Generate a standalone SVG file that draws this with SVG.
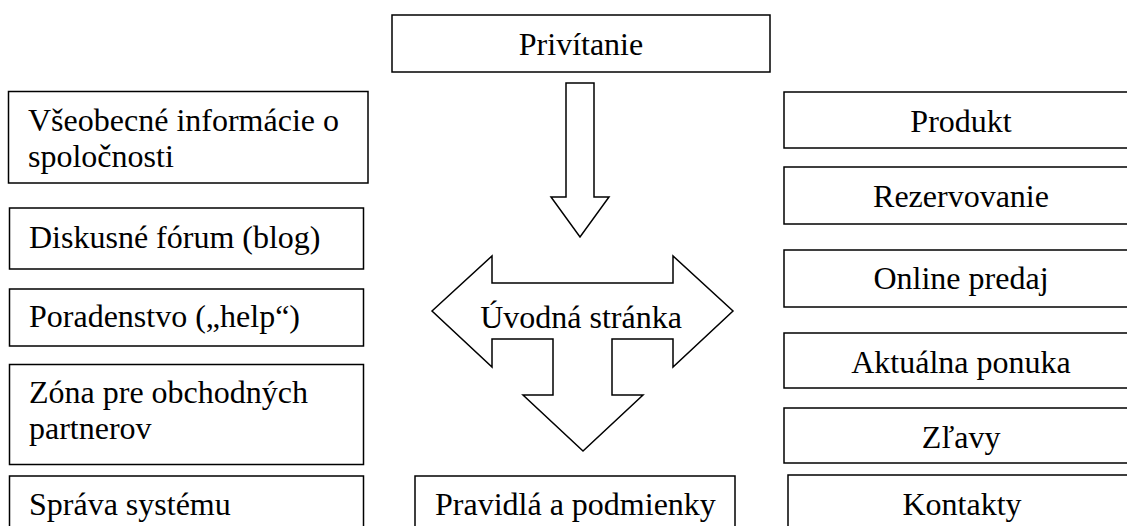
<svg xmlns="http://www.w3.org/2000/svg" width="1127" height="526" viewBox="0 0 1127 526">
  <style>
    .box { fill: #ffffff; stroke: #000000; stroke-width: 1.5; }
    .arrow { fill: #ffffff; stroke: #000000; stroke-width: 1.5; stroke-linejoin: miter; }
    text { font-family: 'Liberation Serif', 'DejaVu Serif', serif; font-size: 32px; fill: #000000; }
    .mid { text-anchor: middle; }
  </style>
  <rect width="1127" height="526" fill="#ffffff"/>

  <!-- block arrows linking the welcome page and the home page -->
  <g id="connectors">
    <polygon class="arrow" points="566,83 594,83 594,197 609,197 580,237 551,197 566,197"/>
    <polygon class="arrow" points="432,311 492,256 492,283 673,283 673,256 733,311 673,367 673,339 612,339 612,395 643,395 583,451 523,395 553,395 553,339 492,339 492,367"/>
  </g>

  <!-- centre column -->
  <g id="welcome" font-family="Liberation Serif, serif">
    <rect class="box" x="392" y="15" width="378" height="57"/>
    <text class="mid" x="581" y="55">Privítanie</text>
  </g>
  <g id="home" font-family="Liberation Serif, serif">
    <text class="mid" x="581" y="328">Úvodná stránka</text>
  </g>
  <g id="terms" font-family="Liberation Serif, serif">
    <rect class="box" x="415" y="476" width="320" height="70"/>
    <text x="435" y="515">Pravidlá a podmienky</text>
  </g>

  <!-- left column -->
  <g id="company-info" font-family="Liberation Serif, serif">
    <rect class="box" x="8.5" y="91.5" width="359.5" height="91.5"/>
    <text x="28" y="131">Všeobecné informácie o</text>
    <text x="28" y="167">spoločnosti</text>
  </g>
  <g id="forum" font-family="Liberation Serif, serif">
    <rect class="box" x="9.5" y="208" width="354" height="61"/>
    <text x="29" y="248">Diskusné fórum (blog)</text>
  </g>
  <g id="help" font-family="Liberation Serif, serif">
    <rect class="box" x="9.5" y="289" width="354" height="57"/>
    <text x="29" y="327">Poradenstvo („help“)</text>
  </g>
  <g id="partners" font-family="Liberation Serif, serif">
    <rect class="box" x="9.5" y="364.5" width="354" height="100"/>
    <text x="29" y="403">Zóna pre obchodných</text>
    <text x="29" y="439">partnerov</text>
  </g>
  <g id="admin" font-family="Liberation Serif, serif">
    <rect class="box" x="9.5" y="476" width="354" height="70"/>
    <text x="29" y="515">Správa systému</text>
  </g>

  <!-- right column -->
  <g id="product" font-family="Liberation Serif, serif">
    <rect class="box" x="784" y="92" width="360" height="56"/>
    <text class="mid" x="961" y="132">Produkt</text>
  </g>
  <g id="booking" font-family="Liberation Serif, serif">
    <rect class="box" x="784" y="167" width="360" height="57"/>
    <text class="mid" x="961" y="207">Rezervovanie</text>
  </g>
  <g id="online-sale" font-family="Liberation Serif, serif">
    <rect class="box" x="784" y="250" width="360" height="57"/>
    <text class="mid" x="961" y="289">Online predaj</text>
  </g>
  <g id="current-offer" font-family="Liberation Serif, serif">
    <rect class="box" x="784" y="333" width="360" height="55"/>
    <text class="mid" x="961" y="373">Aktuálna ponuka</text>
  </g>
  <g id="discounts" font-family="Liberation Serif, serif">
    <rect class="box" x="784" y="408" width="360" height="55"/>
    <text class="mid" x="961" y="448">Zľavy</text>
  </g>
  <g id="contacts" font-family="Liberation Serif, serif">
    <rect class="box" x="788" y="475" width="360" height="70"/>
    <text class="mid" x="962" y="515">Kontakty</text>
  </g>
</svg>
